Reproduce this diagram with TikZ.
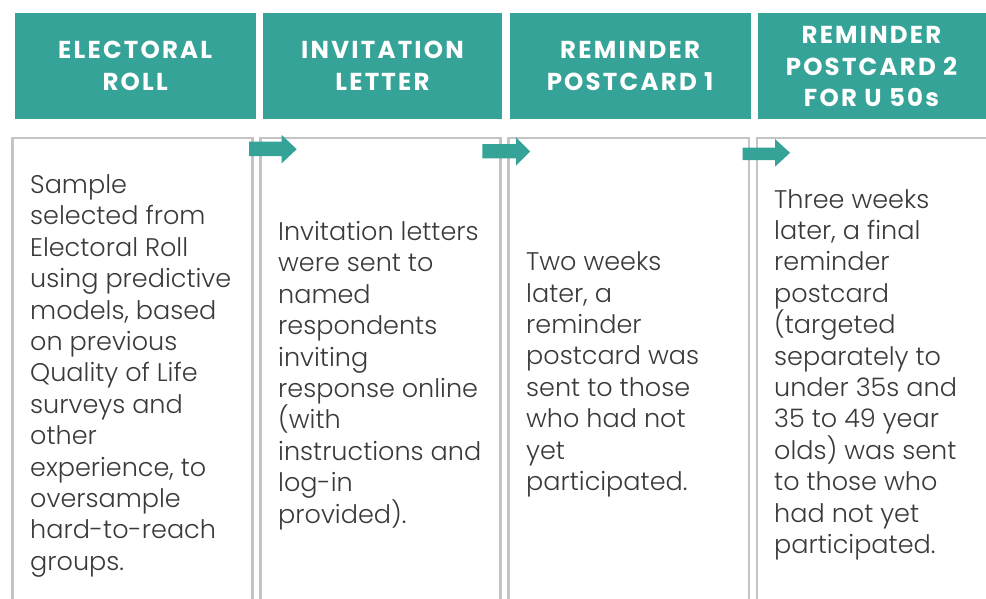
\documentclass[tikz,border=0pt]{standalone}
\usepackage{fontspec}
\setmainfont{Poppins}[UprightFont=* Light, BoldFont=* Bold]
\newfontfamily\headfont{Poppins Bold}[LetterSpace=9]
\definecolor{teal1}{RGB}{54,163,152}
\definecolor{greyline}{RGB}{196,196,196}
\definecolor{bodytext}{RGB}{58,58,58}
\tikzset{
  headbox/.style={fill=teal1, draw=none},
  headtext/.style={text=white, font=\headfont\fontsize{24.5}{31.5}\selectfont, align=center, inner sep=0pt},
  bodybox/.style={draw=greyline, line width=2.8pt, fill=white},
  bodytext/.style={text=bodytext, font=\fontsize{25.5}{31.4}\selectfont, align=left, anchor=base west, inner sep=0pt},
  flowarrow/.style={fill=teal1, draw=none}
}
\begin{document}
\begin{tikzpicture}[x=1pt,y=-1pt]
\clip (0,0) rectangle (986,598);
\fill[white] (0,0) rectangle (986,598);
% header boxes
\fill[headbox] (14.7,12.7) rectangle (255.7,119);
\fill[headbox] (262.7,12.7) rectangle (502.3,119);
\fill[headbox] (509.5,12.7) rectangle (750.7,119);
\fill[headbox] (757.7,12.7) rectangle (995,119);
\node[headtext] (h1) at (135.2,65.9) {ELECTORAL\\ROLL};
\node[headtext] (h2) at (382.5,65.9) {INVITATION\\LETTER};
\node[headtext] (h3) at (630.1,65.9) {REMINDER\\POSTCARD 1};
\node[headtext] (h4) at (871.5,66.5) {REMINDER\\POSTCARD 2\\FOR U 50s};
% body boxes
\draw[bodybox] (12.5,611) -- (12.5,138) -- (252.3,138) -- (252.3,611);
\draw[bodybox] (260.7,611) -- (260.7,138) -- (500.7,138) -- (500.7,611);
\draw[bodybox] (508.7,611) -- (508.7,138) -- (749,138) -- (749,611);
\draw[bodybox] (756.9,611) -- (756.9,138) -- (995,138);
% arrows
\fill[flowarrow] (249,141.7) -- (281.7,141.7) -- (281.7,135) -- (296.7,149.2) -- (281.7,163.3) -- (281.7,156) -- (249,156) -- cycle;
\fill[flowarrow] (482.3,144) -- (516,144) -- (516,137.3) -- (530,151.5) -- (516,165.7) -- (516,158.3) -- (482.3,158.3) -- cycle;
\fill[flowarrow] (742.7,147.7) -- (775,147.7) -- (775,139) -- (790,152.8) -- (775,166.7) -- (775,160) -- (742.7,160) -- cycle;
% body texts (anchored at the baseline of the last line)
\node[bodytext] (t1) at (30,570.3) {Sample\\selected from\\Electoral Roll\\using predictive\\models, based\\on previous\\Quality of Life\\surveys and\\other\\experience, to\\oversample\\hard-to-reach\\groups.};
\node[bodytext] (t2) at (278,523.1) {Invitation letters\\were sent to\\named\\respondents\\inviting\\response online\\(with\\instructions and\\log-in\\provided).};
\node[bodytext] (t3) at (526,490.5) {Two weeks\\later, a\\reminder\\postcard was\\sent to those\\who had not\\yet\\participated.};
\node[bodytext] (t4) at (774,553.4) {Three weeks\\later, a final\\reminder\\postcard\\(targeted\\separately to\\under 35s and\\35 to 49 year\\olds) was sent\\to those who\\had not yet\\participated.};
\end{tikzpicture}
\end{document}
